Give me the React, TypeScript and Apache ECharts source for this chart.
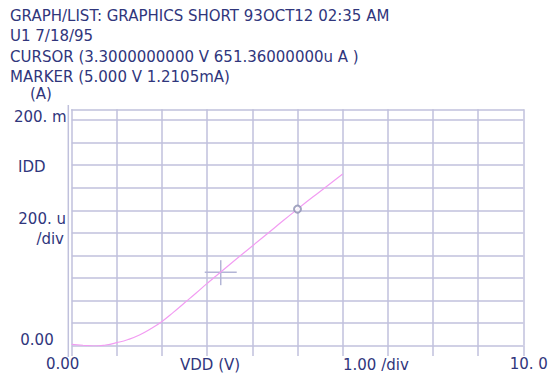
import React, { useEffect, useRef } from 'react';
import * as echarts from 'echarts';

// ---- data (VDD in volts, IDD in mA) ----
const vdd = [0, 0.25, 0.5, 0.75, 1.0, 1.25, 1.5, 1.75, 2.0, 2.25, 2.5, 2.75, 3.0, 3.5, 4.0, 4.5, 5.0, 5.5, 6.0];
const idd = [0.012, 0.004, -0.003, 0.006, 0.027, 0.055, 0.095, 0.15, 0.215, 0.295, 0.38, 0.465, 0.552, 0.72, 0.884, 1.048, 1.2105, 1.367, 1.521];
const cursorPoint = [3.3, 0.65136];
const markerPoint = [5.0, 1.2105];

const headerLines = [
  'GRAPH/LIST: GRAPHICS SHORT 93OCT12 02:35 AM',
  'U1 7/18/95',
  'CURSOR (3.3000000000 V 651.36000000u A )',
  'MARKER (5.000 V 1.2105mA)',
];
const xTickLabels: Record<number, string> = { 0: '0.00', 10: '10. 0' };
const yTickLabels: Record<number, string> = { 0: '0.00', 2: '200. m' };
const xAxisName = 'VDD (V)';
const xDivText = '1.00 /div';
const yUnit = '(A)';
const yName = 'IDD';
const yDivText = ['200. u', '/div'];

const FONT_FAMILY = '"DejaVu Sans", Verdana, sans-serif';
const FS = 15;
const INK = '#30367c';
const GRID = '#c0c1dc';
const CURVE = '#f29cf2';

export default function App() {
  const ref = useRef<HTMLDivElement>(null);
  useEffect(() => {
    if (!ref.current) return;
    const chart = echarts.init(ref.current, undefined, { renderer: 'svg' });
    const gridLine = { color: GRID, width: 1.5 };
    const font = `${FS}px ${FONT_FAMILY}`;
    const text = (t: string, x: number, y: number, align = 'left') => ({
      type: 'text',
      x,
      y,
      silent: true,
      style: { text: t, font, fill: INK, textAlign: align, textVerticalAlign: 'middle', lineHeight: 15 },
    });
    const option: any = {
      animation: false,
      backgroundColor: '#ffffff',
      grid: { left: 71.7, right: 36.7, top: 120, bottom: 35.3 },
      xAxis: [
        {
          type: 'value',
          min: 0,
          max: 10,
          interval: 1,
          position: 'bottom',
          axisLine: { show: false },
          axisTick: { show: true, inside: false, length: 10.3, lineStyle: gridLine },
          splitLine: { show: true, lineStyle: gridLine },
          axisLabel: {
            show: true,
            margin: 11,
            showMinLabel: true,
            showMaxLabel: true,
            color: INK,
            fontFamily: FONT_FAMILY,
            fontSize: FS,
            formatter: (v: number) => {
              const r = Math.round(v);
              if (r === 0) return `{a|${xTickLabels[0]}}`;
              if (r === 10) return `{b|${xTickLabels[10]}}`;
              return '';
            },
            rich: {
              a: { color: INK, fontFamily: FONT_FAMILY, fontSize: FS, padding: [0, 18, 0, 0] },
              b: { color: INK, fontFamily: FONT_FAMILY, fontSize: FS, padding: [0, 0, 0, 11] },
            },
          },
        },
        {
          type: 'value',
          min: 0,
          max: 10,
          interval: 1,
          position: 'top',
          offset: 10.7,
          axisLine: { show: true, lineStyle: gridLine },
          axisTick: { show: true, inside: true, length: 10.7, lineStyle: gridLine },
          axisLabel: { show: false },
          splitLine: { show: false },
        },
      ],
      yAxis: {
        type: 'value',
        min: 0,
        max: 2,
        interval: 0.2,
        axisLine: { show: false },
        axisTick: { show: false },
        splitLine: { show: true, lineStyle: gridLine },
        axisLabel: {
          show: true,
          margin: 5,
          showMinLabel: true,
          showMaxLabel: true,
          color: INK,
          fontFamily: FONT_FAMILY,
          fontSize: FS,
          formatter: (v: number) => {
            if (Math.abs(v) < 1e-6) return `{z|${yTickLabels[0]}}`;
            if (Math.abs(v - 2) < 1e-6) return `{m|${yTickLabels[2]}}`;
            return '';
          },
          rich: {
            z: { color: INK, fontFamily: FONT_FAMILY, fontSize: FS, padding: [0, 13, 12, 0] },
            m: { color: INK, fontFamily: FONT_FAMILY, fontSize: FS, padding: [0, 0, 6, 0] },
          },
        },
      },
      series: [
        {
          type: 'line',
          data: vdd.map((v, i) => [v, idd[i]]),
          smooth: 0.5,
          showSymbol: false,
          lineStyle: { color: CURVE, width: 1.2 },
          silent: true,
          z: 3,
        },
        {
          type: 'custom',
          data: [cursorPoint],
          silent: true,
          z: 2,
          renderItem: (_p: any, api: any) => {
            const c = api.coord([api.value(0), api.value(1)]);
            const st = { stroke: '#b3b5d6', lineWidth: 1.5 };
            return {
              type: 'group',
              children: [
                { type: 'line', shape: { x1: c[0] - 16, y1: c[1], x2: c[0] + 16, y2: c[1] }, style: st },
                { type: 'line', shape: { x1: c[0], y1: c[1] - 12, x2: c[0], y2: c[1] + 13 }, style: st },
              ],
            };
          },
        },
        {
          type: 'scatter',
          data: [markerPoint],
          symbol: 'emptyCircle',
          symbolSize: 7,
          silent: true,
          z: 4,
          itemStyle: { color: '#8c8eb2', borderColor: '#8c8eb2', borderWidth: 1.2 },
        },
      ],
      graphic: [
        {
          type: 'line',
          silent: true,
          shape: { x1: 68.3, y1: 105, x2: 68.3, y2: 357 },
          style: { stroke: GRID, lineWidth: 1.5 },
        },
        ...headerLines.map((t, i) => text(t, 10, 16 + i * 20.4)),
        text(yUnit, 30, 94),
        text(yName, 18, 167),
        text(yDivText[0], 66, 218.5, 'right'),
        text(yDivText[1], 64, 238.5, 'right'),
        text(xAxisName, 180, 365),
        text(xDivText, 343, 365),
      ],
    };
    chart.setOption(option);
    return () => chart.dispose();
  }, []);
  return (
    <div
      ref={ref}
      style={{ position: 'fixed', left: 0, top: 0, width: 560, height: 381, background: '#fff' }}
    />
  );
}
